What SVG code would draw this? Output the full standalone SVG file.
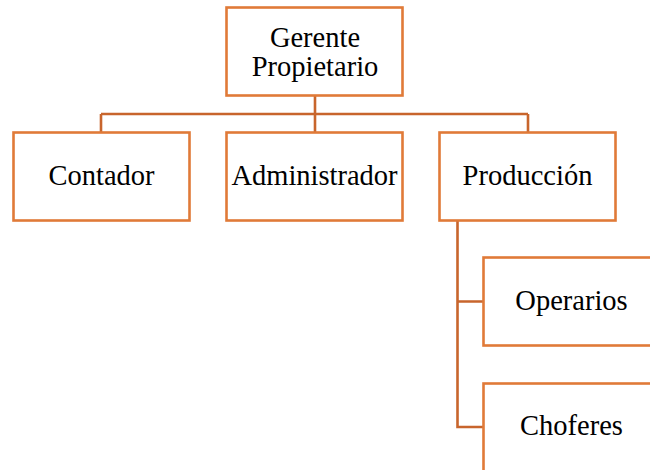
<svg xmlns="http://www.w3.org/2000/svg" width="650" height="470" viewBox="0 0 650 470">
<style>
.box{fill:#fff;stroke:#E07A38;stroke-width:2.6}
.c{fill:none;stroke:#C8652C;stroke-width:2.6}
</style>
<rect width="650" height="470" fill="#fff"/>
<g id="connectors">
<path class="c" d="M315 96V114M101 114H528M101 114V132M315 114V132M528 114V132"/>
<path class="c" d="M457.5 221V427H483.5M457.5 301.5H483.5"/>
</g>
<g font-family="Liberation Serif, serif" font-size="28.5" fill="#000" text-anchor="middle">
<g id="gerente">
<rect class="box" x="226.5" y="7.5" width="176" height="88"/>
<text x="315" y="47">Gerente</text>
<text x="315" y="76">Propietario</text>
</g>
<g id="contador">
<rect class="box" x="13.5" y="132.5" width="176" height="88"/>
<text x="101.5" y="185">Contador</text>
</g>
<g id="administrador">
<rect class="box" x="226.5" y="132.5" width="176" height="88"/>
<text x="314.5" y="185">Administrador</text>
</g>
<g id="produccion">
<rect class="box" x="439.5" y="132.5" width="176" height="88"/>
<text x="527.5" y="185">Producción</text>
</g>
<g id="operarios">
<rect class="box" x="483.5" y="257.5" width="176" height="88"/>
<text x="571.5" y="310">Operarios</text>
</g>
<g id="choferes">
<rect class="box" x="483.5" y="383.5" width="176" height="88"/>
<text x="571.5" y="435">Choferes</text>
</g>
</g>
</svg>
